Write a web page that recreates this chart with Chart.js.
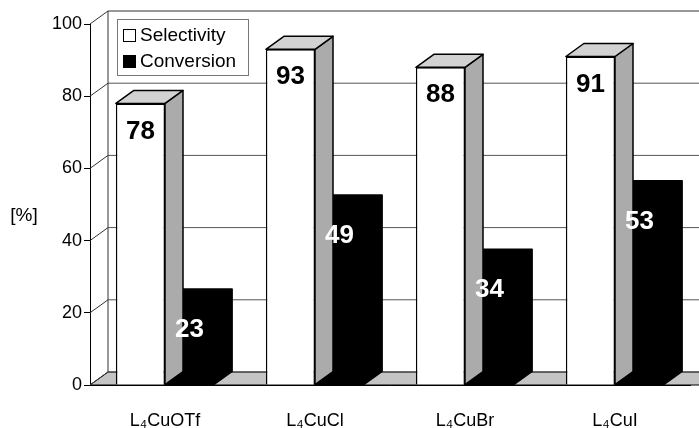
<!DOCTYPE html>
<html>
<head>
<meta charset="utf-8">
<script src="https://cdn.jsdelivr.net/npm/chart.js@4"></script>
<style>
  body { margin: 0; background: #fff; }
  #wrap { width: 699px; height: 428px; }
</style>
</head>
<body>
<div id="wrap"><canvas id="myChart"></canvas></div>
<script>
const categories = ["L\u2084CuOTf", "L\u2084CuCl", "L\u2084CuBr", "L\u2084CuI"];
const selectivity = [78, 93, 88, 91];
const conversion = [23, 49, 34, 53];
const yTicks = [0, 20, 40, 60, 80, 100];

const FONT = "'Liberation Sans', Arial, sans-serif";
const DX = 18, DY = -13; // depth offset of the 3d look

function poly(ctx, pts, fill, stroke) {
  ctx.beginPath();
  ctx.moveTo(pts[0][0], pts[0][1]);
  for (let i = 1; i < pts.length; i++) ctx.lineTo(pts[i][0], pts[i][1]);
  ctx.closePath();
  if (fill) { ctx.fillStyle = fill; ctx.fill(); }
  if (stroke) { ctx.strokeStyle = stroke; ctx.stroke(); }
}

const box3d = {
  id: "box3d",
  beforeDatasetsDraw(chart) {
    const ctx = chart.ctx;
    const a = chart.chartArea;
    const y = chart.scales.y;
    const W = chart.width;
    ctx.save();
    ctx.lineWidth = 1;
    // floor
    poly(ctx, [[a.left, a.bottom], [a.left + DX, a.bottom + DY], [W + 5, a.bottom + DY], [W + 5, a.bottom]], "#c4c4c4", "#000");
    // back wall grid + left wall diagonals
    yTicks.forEach((v) => {
      const py = y.getPixelForValue(v);
      ctx.strokeStyle = v === 100 ? "#333" : "#555";
      ctx.beginPath();
      ctx.moveTo(a.left + DX, py + DY);
      ctx.lineTo(W + 5, py + DY);
      ctx.stroke();
      ctx.strokeStyle = "#333";
      ctx.beginPath();
      ctx.moveTo(a.left, py);
      ctx.lineTo(a.left + DX, py + DY);
      ctx.stroke();
    });
    ctx.strokeStyle = "#333";
    ctx.beginPath();
    ctx.moveTo(a.left + DX, y.getPixelForValue(100) + DY);
    ctx.lineTo(a.left + DX, a.bottom + DY);
    ctx.stroke();
    ctx.restore();
  },
  beforeDatasetDraw(chart, args) {
    const ctx = chart.ctx;
    const dark = args.index === 1;
    ctx.save();
    ctx.lineWidth = 1.5;
    ctx.lineJoin = "round";
    args.meta.data.forEach((bar) => {
      const x1 = bar.x - bar.width / 2, x2 = bar.x + bar.width / 2;
      const top = bar.y, base = bar.base;
      if (dark) {
        // whole silhouette in black so no seams show
        poly(ctx, [[x1, top], [x1 + DX, top + DY], [x2 + DX, top + DY], [x2 + DX, base + DY], [x2, base], [x1, base]], "#000", "#000");
      } else {
        poly(ctx, [[x2, top], [x2 + DX, top + DY], [x2 + DX, base + DY], [x2, base]], "#ababab", "#000");
        poly(ctx, [[x1, top], [x1 + DX, top + DY], [x2 + DX, top + DY], [x2, top]], "#d2d2d2", "#000");
      }
    });
    ctx.restore();
  },
  afterDatasetsDraw(chart) {
    const ctx = chart.ctx;
    ctx.save();
    // value labels
    ctx.textAlign = "center";
    ctx.textBaseline = "middle";
    ctx.font = "bold 26px " + FONT;
    [selectivity, conversion].forEach((vals, di) => {
      chart.getDatasetMeta(di).data.forEach((bar, i) => {
        ctx.fillStyle = di === 0 ? "#000" : "#fff";
        ctx.fillText(String(vals[i]), bar.x, bar.y + 28);
      });
    });
    // legend
    ctx.lineWidth = 1;
    ctx.fillStyle = "#fff";
    ctx.fillRect(117, 19, 131, 56);
    ctx.strokeStyle = "#777";
    ctx.strokeRect(117.5, 19.5, 131, 56);
    ctx.strokeStyle = "#000";
    ctx.fillStyle = "#fff";
    ctx.fillRect(123, 29, 13, 13);
    ctx.strokeRect(123.5, 29.5, 12, 12);
    ctx.fillStyle = "#000";
    ctx.fillRect(123, 55, 13, 13);
    ctx.font = "19px " + FONT;
    ctx.textAlign = "left";
    ctx.fillText("Selectivity", 140, 36);
    ctx.fillText("Conversion", 140, 62);
    // y title
    ctx.textAlign = "center";
    ctx.fillText("[%]", 24, 216);
    ctx.restore();
  }
};

new Chart(document.getElementById("myChart"), {
  type: "bar",
  data: {
    labels: categories,
    datasets: [
      {
        label: "Selectivity",
        data: selectivity,
        backgroundColor: "#fff",
        borderColor: "#000",
        borderWidth: 1.5,
        clip: false,
      },
      {
        label: "Conversion",
        data: conversion,
        backgroundColor: "#000",
        borderColor: "#000",
        borderWidth: 1.5,
        clip: false,
      },
    ],
  },
  options: {
    responsive: true,
    maintainAspectRatio: false,
    animation: false,
    events: [],
    layout: { padding: { top: 24, right: 9, left: 0, bottom: 0 } },
    datasets: { bar: { categoryPercentage: 0.655, barPercentage: 1 } },
    plugins: { legend: { display: false }, tooltip: { enabled: false } },
    scales: {
      x: {
        grid: { display: false },
        border: { display: true, color: "#000", width: 1 },
        ticks: { color: "#000", font: { family: FONT, size: 18 }, padding: 17 },
        afterFit(scale) { scale.height = 43; },
      },
      y: {
        min: 0,
        max: 100,
        ticks: { stepSize: 20, color: "#000", font: { family: FONT, size: 18 }, padding: 2 },
        grid: { drawOnChartArea: false, tickLength: 6, color: "#000" },
        border: { color: "#000", width: 1 },
        afterFit(scale) { scale.width = 90; },
      },
    },
  },
  plugins: [box3d],
});
</script>
</body>
</html>
